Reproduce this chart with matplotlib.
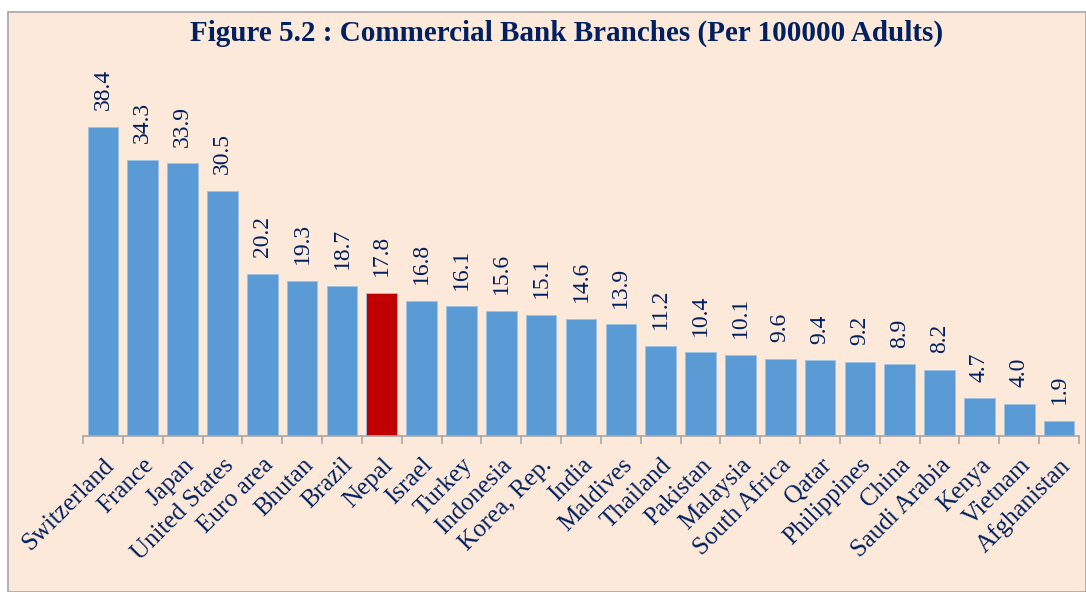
import matplotlib
matplotlib.use("Agg")
import matplotlib.pyplot as plt
from matplotlib.patches import Rectangle
import numpy as np

countries = ["Switzerland", "France", "Japan", "United States", "Euro area", "Bhutan",
             "Brazil", "Nepal", "Israel", "Turkey", "Indonesia", "Korea, Rep.", "India",
             "Maldives", "Thailand", "Pakistan", "Malaysia", "South Africa", "Qatar",
             "Philippines", "China", "Saudi Arabia", "Kenya", "Vietnam", "Afghanistan"]
branches = [38.4, 34.3, 33.9, 30.5, 20.2, 19.3, 18.7, 17.8, 16.8, 16.1, 15.6, 15.1, 14.6,
            13.9, 11.2, 10.4, 10.1, 9.6, 9.4, 9.2, 8.9, 8.2, 4.7, 4.0, 1.9]
highlight = "Nepal"

BG = "#FDE9D9"; NAVY = "#002060"; BLUE = "#5B9BD5"; RED = "#C00000"
plt.rcParams["font.family"] = ["Liberation Serif", "DejaVu Serif"]

W, H = 1086, 592
fig = plt.figure(figsize=(W / 100, H / 100), dpi=100, facecolor="white")
fig.patches.append(Rectangle((8 / W, 0), 1 - 8 / W, (H - 12) / H, transform=fig.transFigure,
                             facecolor=BG, edgecolor="#A6A6A6", lw=1.2, zorder=-10))

ax = fig.add_axes([83 / W, 156 / H, (1079 - 83) / W, 362 / H])
ax.set_facecolor("none")
x = np.arange(len(countries))
colors = [RED if c == highlight else BLUE for c in countries]
ax.bar(x, branches, width=0.77, color=colors, edgecolor="#9DC3E6", linewidth=0.6)
for xi, v in zip(x, branches):
    ax.annotate(f"{v:.1f}", (xi, v), xytext=(0, 12), textcoords="offset points",
                rotation=90, ha="center", va="bottom", fontsize=17, color=NAVY)

ax.set_xlim(-0.5, len(countries) - 0.5)
ax.set_ylim(0, 45)
ax.set_yticks([])
for s in ["top", "right", "left"]:
    ax.spines[s].set_visible(False)
ax.spines["bottom"].set_color("#A6A6A6")
ax.spines["bottom"].set_linewidth(1.2)
ax.set_xticks(x)
ax.set_xticklabels(countries, rotation=45, ha="right", rotation_mode="anchor",
                   fontsize=18, color=NAVY)
ax.tick_params(axis="x", which="major", length=0, pad=13)
ax.set_xticks(np.arange(-0.5, len(countries), 1), minor=True)
ax.tick_params(axis="x", which="minor", length=6, color="#A6A6A6", width=1.2)

fig.text(567 / W, 1 - 33 / H, "Figure 5.2 : Commercial Bank Branches (Per 100000 Adults)",
         ha="center", va="center", fontsize=21, fontweight="bold", color=NAVY)

fig.savefig("out.png", dpi=100, facecolor="white")
